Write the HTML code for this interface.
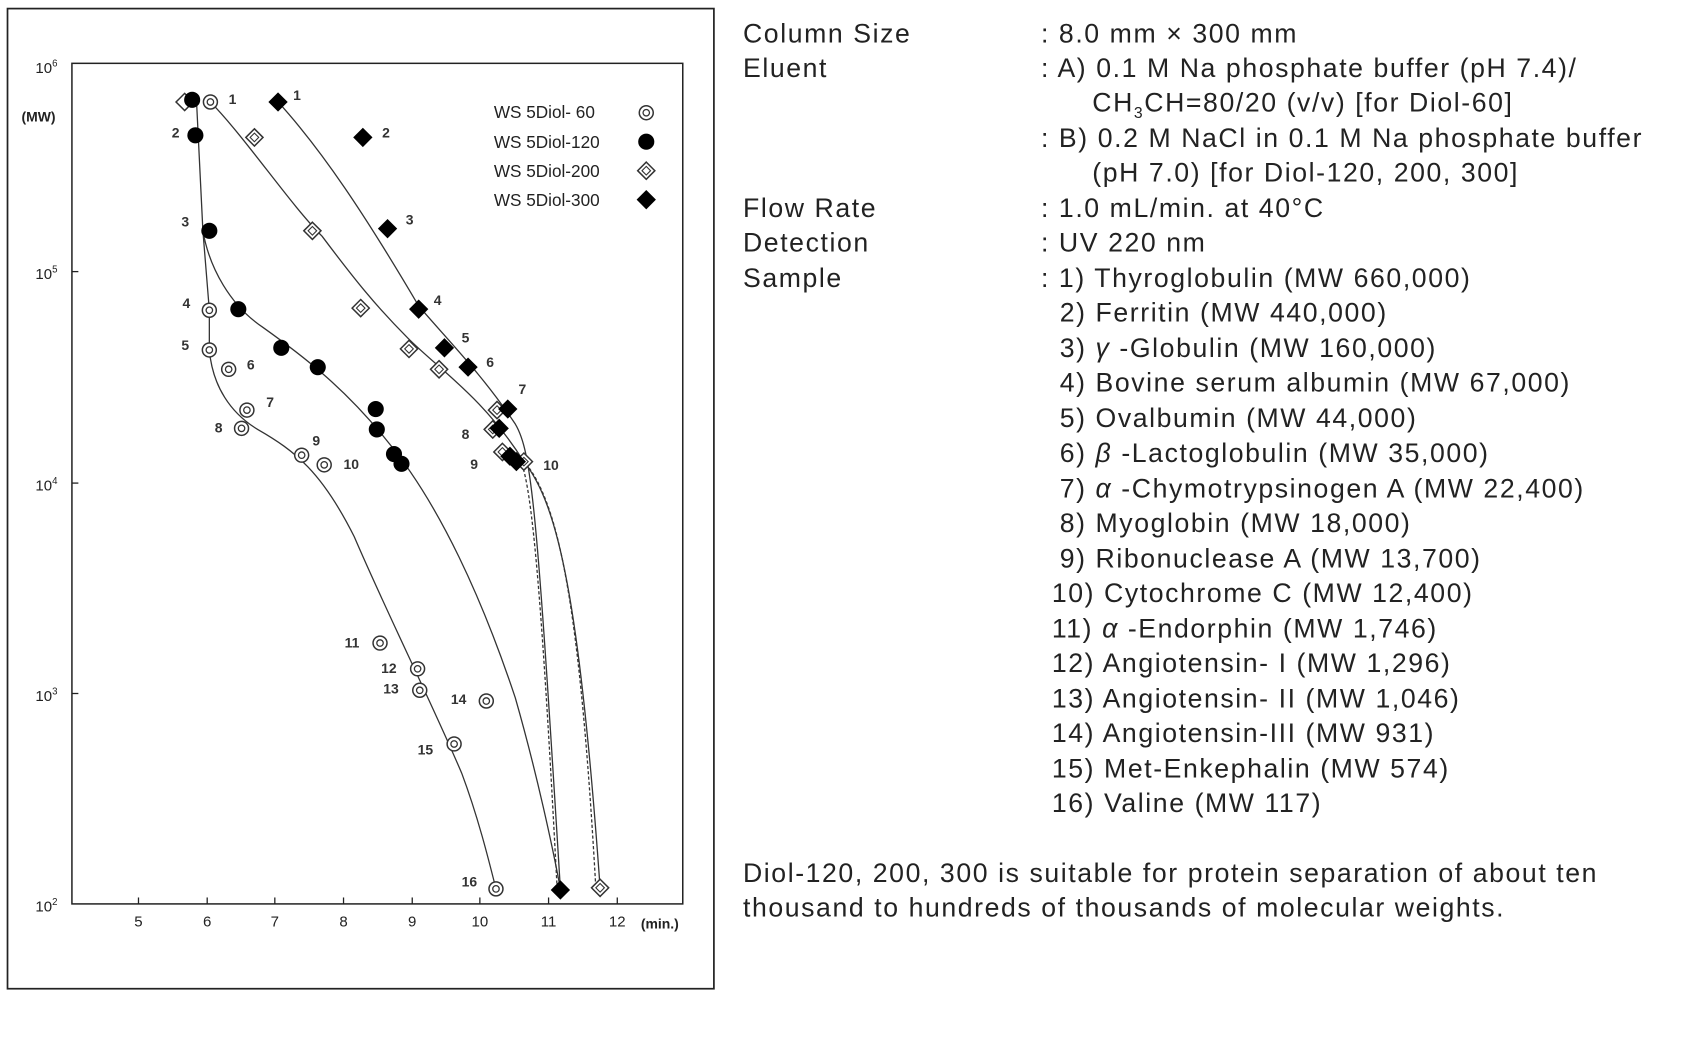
<!DOCTYPE html>
<html><head><meta charset="utf-8"><style>
html,body{margin:0;padding:0;background:#fff;}
body{width:1683px;height:1049px;position:relative;overflow:hidden;}
#w{position:absolute;left:0;top:0;width:1683px;height:1049px;transform:scale(0.9867);transform-origin:0 0;}
.t{position:absolute;font-family:"Liberation Sans","Noto Sans CJK JP",sans-serif;font-size:27px;color:#222;white-space:nowrap;letter-spacing:1.6px;line-height:30px;}
</style></head><body><div id="w">
<svg width="1683" height="1049" style="position:absolute;left:0;top:0">
<g transform="scale(1.088)" font-family="Liberation Sans, sans-serif" fill="#222">
<rect x="7" y="8" width="658" height="913" fill="none" stroke="#222" stroke-width="1.6"/>
<rect x="67" y="59" width="569" height="783" fill="none" stroke="#222" stroke-width="1.4"/>
<g stroke="#222" stroke-width="1.2">
<line x1="67" y1="253" x2="73" y2="253"/><line x1="67" y1="450" x2="73" y2="450"/><line x1="67" y1="646" x2="73" y2="646"/>
<line x1="129" y1="842" x2="129" y2="836"/><line x1="193" y1="842" x2="193" y2="836"/><line x1="256" y1="842" x2="256" y2="836"/><line x1="320" y1="842" x2="320" y2="836"/><line x1="384" y1="842" x2="384" y2="836"/><line x1="447" y1="842" x2="447" y2="836"/><line x1="511" y1="842" x2="511" y2="836"/><line x1="575" y1="842" x2="575" y2="836"/>
</g>
<g font-size="14">
<text x="33" y="68">10<tspan font-size="9" dy="-6">6</tspan></text>
<text x="20" y="113" font-size="13" font-weight="bold">(MW)</text>
<text x="33" y="260">10<tspan font-size="9" dy="-6">5</tspan></text>
<text x="33" y="457">10<tspan font-size="9" dy="-6">4</tspan></text>
<text x="33" y="653">10<tspan font-size="9" dy="-6">3</tspan></text>
<text x="33" y="849">10<tspan font-size="9" dy="-6">2</tspan></text>
<g text-anchor="middle"><text x="129" y="863">5</text><text x="193" y="863">6</text><text x="256" y="863">7</text><text x="320" y="863">8</text><text x="384" y="863">9</text><text x="447" y="863">10</text><text x="511" y="863">11</text><text x="575" y="863">12</text></g>
<text x="597" y="865" font-size="13" font-weight="bold">(min.)</text>
<text x="460" y="110" font-size="16">WS 5Diol-  60</text>
<text x="460" y="138" font-size="16">WS 5Diol-120</text>
<text x="460" y="165" font-size="16">WS 5Diol-200</text>
<text x="460" y="192" font-size="16">WS 5Diol-300</text>
</g>
<g fill="none" stroke="#333" stroke-width="1.2">
<path d="M183,93 L189,215 L195,289 L195,326 C198,360 215,385 240,400 C275,420 300,440 330,500 C360,570 400,650 430,720 C445,760 455,800 462,828"/>
<path d="M189,215 C195,250 215,285 245,305 C280,330 320,360 360,410 C410,470 450,560 480,650 C500,720 515,790 522,828"/>
<path d="M196,95 C230,130 270,190 300,220 C330,260 350,285 380,315 C410,345 450,370 488,430 C520,470 540,560 559,827"/>
<path d="M259,95 C300,140 340,200 390,285 C420,320 450,350 480,395 C495,420 500,470 522,828"/>
</g>
<g stroke="#333" stroke-width="1.2" fill="none" stroke-dasharray="3 2">
<path d="M490,432 C520,470 540,560 555,827"/>
<path d="M486,432 C496,460 505,560 519,828"/>
</g>
<g stroke="#333" stroke-width="1.4" fill="#fff">
<circle cx="196" cy="95" r="6.5"/><circle cx="195" cy="289" r="6.5"/><circle cx="195" cy="326" r="6.5"/><circle cx="213" cy="344" r="6.5"/><circle cx="230" cy="382" r="6.5"/><circle cx="225" cy="399" r="6.5"/><circle cx="281" cy="424" r="6.5"/><circle cx="302" cy="433" r="6.5"/><circle cx="354" cy="599" r="6.5"/><circle cx="389" cy="623" r="6.5"/><circle cx="391" cy="643" r="6.5"/><circle cx="453" cy="653" r="6.5"/><circle cx="423" cy="693" r="6.5"/><circle cx="462" cy="828" r="6.5"/><circle cx="602" cy="105" r="6.5"/>
<g fill="none" stroke-width="1.2">
<circle cx="196" cy="95" r="3"/><circle cx="195" cy="289" r="3"/><circle cx="195" cy="326" r="3"/><circle cx="213" cy="344" r="3"/><circle cx="230" cy="382" r="3"/><circle cx="225" cy="399" r="3"/><circle cx="281" cy="424" r="3"/><circle cx="302" cy="433" r="3"/><circle cx="354" cy="599" r="3"/><circle cx="389" cy="623" r="3"/><circle cx="391" cy="643" r="3"/><circle cx="453" cy="653" r="3"/><circle cx="423" cy="693" r="3"/><circle cx="462" cy="828" r="3"/><circle cx="602" cy="105" r="3"/>
</g>
</g>
<g stroke="#333" stroke-width="1.4" fill="#fff">
<path d="M172,87l8,8l-8,8l-8,-8z M237,120l8,8l-8,8l-8,-8z M291,207l8,8l-8,8l-8,-8z M336,279l8,8l-8,8l-8,-8z M381,317l8,8l-8,8l-8,-8z M409,336l8,8l-8,8l-8,-8z M463,374l8,8l-8,8l-8,-8z M459,392l8,8l-8,8l-8,-8z M468,413l8,8l-8,8l-8,-8z M488,422l8,8l-8,8l-8,-8z M559,819l8,8l-8,8l-8,-8z M602,151l8,8l-8,8l-8,-8z"/>
<path fill="none" stroke-width="1" d="M237,124l4,4l-4,4l-4,-4z M291,211l4,4l-4,4l-4,-4z M336,283l4,4l-4,4l-4,-4z M381,321l4,4l-4,4l-4,-4z M409,340l4,4l-4,4l-4,-4z M463,378l4,4l-4,4l-4,-4z M459,396l4,4l-4,4l-4,-4z M468,417l4,4l-4,4l-4,-4z M488,426l4,4l-4,4l-4,-4z M559,823l4,4l-4,4l-4,-4z M602,155l4,4l-4,4l-4,-4z"/>
</g>
<g fill="#000">
<circle cx="179" cy="93" r="7.5"/><circle cx="182" cy="126" r="7.5"/><circle cx="195" cy="215" r="7.5"/><circle cx="222" cy="288" r="7.5"/><circle cx="262" cy="324" r="7.5"/><circle cx="296" cy="342" r="7.5"/><circle cx="350" cy="381" r="7.5"/><circle cx="351" cy="400" r="7.5"/><circle cx="367" cy="423" r="7.5"/><circle cx="374" cy="432" r="7.5"/><circle cx="602" cy="132" r="7.5"/>
<path d="M259,86l9,9l-9,9l-9,-9z M338,119l9,9l-9,9l-9,-9z M361,204l9,9l-9,9l-9,-9z M390,279l9,9l-9,9l-9,-9z M414,315l9,9l-9,9l-9,-9z M436,333l9,9l-9,9l-9,-9z M473,372l9,9l-9,9l-9,-9z M465,390l9,9l-9,9l-9,-9z M475,416l9,9l-9,9l-9,-9z M481,421l9,9l-9,9l-9,-9z M522,820l9,9l-9,9l-9,-9z M602,177l9,9l-9,9l-9,-9z"/>
</g>
<g font-size="13" font-weight="bold" fill="#333">
<text x="213" y="97">1</text><text x="273" y="93">1</text><text x="160" y="128">2</text><text x="356" y="128">2</text>
<text x="169" y="211">3</text><text x="378" y="209">3</text><text x="170" y="287">4</text><text x="404" y="284">4</text>
<text x="169" y="326">5</text><text x="430" y="319">5</text><text x="230" y="344">6</text><text x="453" y="342">6</text>
<text x="248" y="379">7</text><text x="483" y="367">7</text><text x="200" y="403">8</text><text x="430" y="409">8</text>
<text x="291" y="415">9</text><text x="438" y="437">9</text><text x="320" y="437">10</text><text x="506" y="438">10</text>
<text x="321" y="603">11</text><text x="355" y="627">12</text><text x="357" y="646">13</text><text x="420" y="656">14</text>
<text x="389" y="703">15</text><text x="430" y="826">16</text>
</g>
</g>
</svg>
<div class="t" style="left:753px;top:19px">Column Size</div><div class="t" style="left:1055px;top:19px">: 8.0 mm × 300 mm</div>
<div class="t" style="left:753px;top:54px">Eluent</div><div class="t" style="left:1055px;top:54px">: A) 0.1 M Na phosphate buffer (pH 7.4)/</div>
<div class="t" style="left:1107px;top:89px">CH<sub style="font-size:16px">3</sub>CH=80/20 (v/v) [for Diol-60]</div>
<div class="t" style="left:1055px;top:125px">: B) 0.2 M NaCl in 0.1 M Na phosphate buffer</div>
<div class="t" style="left:1107px;top:160px">(pH 7.0) [for Diol-120, 200, 300]</div>
<div class="t" style="left:753px;top:196px">Flow Rate</div><div class="t" style="left:1055px;top:196px">: 1.0 mL/min. at 40°C</div>
<div class="t" style="left:753px;top:231px">Detection</div><div class="t" style="left:1055px;top:231px">: UV 220 nm</div>
<div class="t" style="left:753px;top:267px">Sample</div><div class="t" style="left:1055px;top:267px">: 1) Thyroglobulin (MW 660,000)</div>
<div class="t" style="left:1074px;top:302px">2) Ferritin (MW 440,000)</div>
<div class="t" style="left:1074px;top:338px">3) <i>γ</i> -Globulin (MW 160,000)</div>
<div class="t" style="left:1074px;top:373px">4) Bovine serum albumin (MW 67,000)</div>
<div class="t" style="left:1074px;top:409px">5) Ovalbumin (MW 44,000)</div>
<div class="t" style="left:1074px;top:444px">6) <i>β</i> -Lactoglobulin (MW 35,000)</div>
<div class="t" style="left:1074px;top:480px">7) <i>α</i> -Chymotrypsinogen A (MW 22,400)</div>
<div class="t" style="left:1074px;top:515px">8) Myoglobin (MW 18,000)</div>
<div class="t" style="left:1074px;top:551px">9) Ribonuclease A (MW 13,700)</div>
<div class="t" style="left:1066px;top:586px">10) Cytochrome C (MW 12,400)</div>
<div class="t" style="left:1066px;top:622px">11) <i>α</i> -Endorphin (MW 1,746)</div>
<div class="t" style="left:1066px;top:657px">12) Angiotensin- I (MW 1,296)</div>
<div class="t" style="left:1066px;top:693px">13) Angiotensin- II (MW 1,046)</div>
<div class="t" style="left:1066px;top:728px">14) Angiotensin-III (MW 931)</div>
<div class="t" style="left:1066px;top:764px">15) Met-Enkephalin (MW 574)</div>
<div class="t" style="left:1066px;top:799px">16) Valine (MW 117)</div>
<div class="t" style="left:753px;top:870px">Diol-120, 200, 300 is suitable for protein separation of about ten</div>
<div class="t" style="left:753px;top:905px">thousand to hundreds of thousands of molecular weights.</div>
</div></body></html>
